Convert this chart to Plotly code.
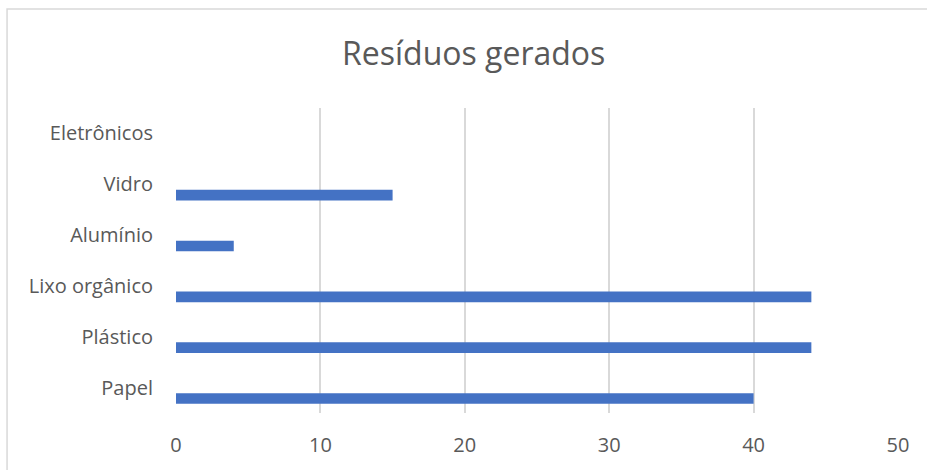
import plotly.graph_objects as go

# categories, bottom to top as drawn
categorias = ['Papel', 'Plástico', 'Lixo orgânico', 'Alumínio', 'Vidro', 'Eletrônicos']
quantidade = [40, 44, 44, 4, 15, None]

ticks_x = [0, 10, 20, 30, 40, 50]

fig = go.Figure()
fig.add_trace(go.Bar(
    y=categorias,
    x=quantidade,
    orientation='h',
    marker=dict(color='#4472C4', line=dict(width=0)),
    width=0.21,
    offset=-0.32,
))

fig.update_layout(
    width=927, height=470,
    margin=dict(l=176, r=29, t=108, b=57),
    paper_bgcolor='white',
    plot_bgcolor='white',
    showlegend=False,
    font=dict(family='Open Sans', color='#595959', size=20),
    title=dict(text='Resíduos gerados', x=0.511, xanchor='center',
               y=0.885, yanchor='middle',
               font=dict(family='Open Sans', size=32, color='#595959')),
    xaxis=dict(range=[0, 50], tickvals=ticks_x, showgrid=True,
               gridcolor='#d9d9d9', gridwidth=1.5, zeroline=False,
               showline=False, ticks='', ticklabelstandoff=18,
               tickfont=dict(size=20), fixedrange=True),
    yaxis=dict(categoryorder='array', categoryarray=categorias,
               showgrid=False, zeroline=False, showline=False,
               ticks='', ticklabelstandoff=22, tickfont=dict(size=20),
               fixedrange=True),
    # chart-area border
    shapes=[dict(type='rect', xref='paper', yref='paper',
                 x0=-0.234, x1=1.045, y0=-0.25, y1=1.3246,
                 line=dict(color='#d9d9d9', width=1.5))],
)

fig.write_html("out.html", config={'displayModeBar': False},
               post_script="document.body.style.margin='0';")
